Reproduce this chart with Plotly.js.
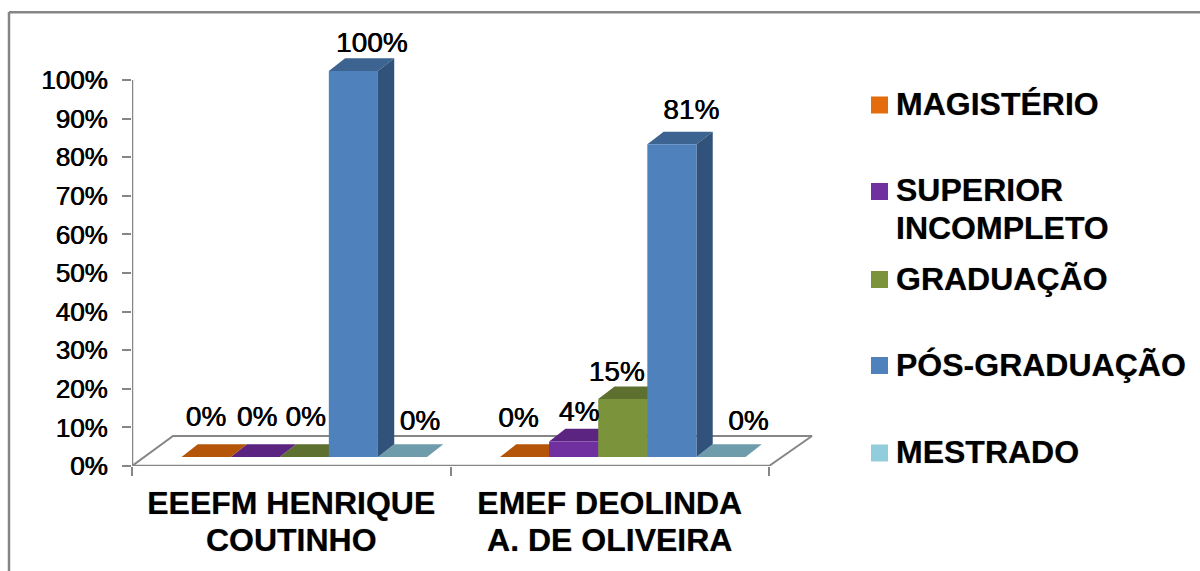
<!DOCTYPE html>
<html>
<head>
<meta charset="utf-8">
<script src="https://cdn.plot.ly/plotly-3.0.1.min.js"></script>
<style>html,body{margin:0;padding:0;background:#fff;overflow:hidden}</style>
</head>
<body>
<div id="chart" style="width:1200px;height:571px"></div>
<script>
// ---- data ----
const categoryLine1 = ["EEEFM HENRIQUE", "EMEF DEOLINDA"];
const categoryLine2 = ["COUTINHO", "A. DE OLIVEIRA"];
const seriesNames = ["MAGISTÉRIO", "SUPERIOR INCOMPLETO", "GRADUAÇÃO", "PÓS-GRADUAÇÃO", "MESTRADO"];
const magisterio = [0, 0];
const superiorIncompleto = [0, 4];
const graduacao = [0, 15];
const posGraduacao = [100, 81];
const mestrado = [0, 0];
const yTickValues = [0, 10, 20, 30, 40, 50, 60, 70, 80, 90, 100];

// ---- style ----
const frontColors = ["#E46C0A", "#7030A0", "#7B943B", "#4F81BD", "#92CDDC"];
const topColors   = ["#B45508", "#5B2480", "#5E7030", "#3D6490", "#6F9CAA"];
const sideColors  = ["#9A4907", "#4A1D69", "#4F5F28", "#31527B", "#5E8592"];
const GRAY = "#868686";
const FONT = "Liberation Sans, Arial, sans-serif";
const SHADOW = "0 0 1px rgba(0,0,0,0.45)";
const MEDIUM = "0.45px 0 0.4px rgba(0,0,0,0.85), -0.35px 0 0.4px rgba(0,0,0,0.7)";

// ---- geometry of the pseudo-3D frame, in pixels of the plot ----
const W = 1200, H = 571, L = 132, T = 20, B = 105, R = 360;
const pxPerUnit = 318.5, pxPerPct = 3.86;
const xMax = (W - L - R) / pxPerUnit, yMax = (H - T - B) / pxPerPct;
const ux = p => p / pxPerUnit, uy = p => p / pxPerPct;
const centers = [0.5, 1.5];
const floorLift = uy(9);
const barW = ux(49.1);
const firstOffset = -0.3445;
const depthX = ux(16.3), depthY = uy(12.7);

// label nudges in px from the centre of each bar's front-top edge
const labelDX = [[0, -6], [2, 5.5], [1.5, -6], [18.5, 19.5], [17.5, 27.5]];
const labelDY = [[38, 37], [38, 28], [38, 25], [26, 32], [34, 34]];

const allSeries = [magisterio, superiorIncompleto, graduacao, posGraduacao, mestrado];
const traces = [];

// floor outline and the axis lines
traces.push({
  type: "scatter", mode: "lines", cliponaxis: false, hoverinfo: "skip", showlegend: false,
  x: [0, ux(41), 2 + ux(43), 2], y: [0, uy(30), uy(30), 0],
  line: {color: GRAY, width: 2}
});
traces.push({
  type: "scatter", mode: "lines", cliponaxis: false, hoverinfo: "skip", showlegend: false,
  x: [0, 0, 2], y: [100, 0, 0],
  line: {color: GRAY, width: 2.5}
});

// top and side faces, painter order: right-most series first
for (let s = allSeries.length - 1; s >= 0; s--) {
  const tx = [], ty = [], sx = [], sy = [];
  allSeries[s].forEach((v, g) => {
    const x0 = centers[g] + firstOffset + s * barW, x1 = x0 + barW;
    const y1 = floorLift + v, y0 = floorLift;
    tx.push(x0, x1, x1 + depthX, x0 + depthX, x0, null);
    ty.push(y1, y1, y1 + depthY, y1 + depthY, y1, null);
    if (v > 0) {
      sx.push(x1, x1 + depthX, x1 + depthX, x1, x1, null);
      sy.push(y0, y0 + depthY, y1 + depthY, y1, y0, null);
    }
  });
  traces.push({type: "scatter", mode: "lines", fill: "toself", fillcolor: topColors[s],
    x: tx, y: ty, line: {width: 0, color: topColors[s]}, hoverinfo: "skip", showlegend: false});
  if (sx.length) traces.push({type: "scatter", mode: "lines", fill: "toself", fillcolor: sideColors[s],
    x: sx, y: sy, line: {width: 0, color: sideColors[s]}, hoverinfo: "skip", showlegend: false});
}

// front faces as real bars on an overlaid identical axis pair
allSeries.forEach((vals, s) => {
  traces.push({
    type: "bar", name: seriesNames[s], xaxis: "x2", yaxis: "y2",
    x: centers, y: vals, base: floorLift, width: barW, offset: firstOffset + s * barW,
    marker: {color: frontColors[s], line: {width: 0}}, showlegend: false
  });
});

// data labels
const lx = [], ly = [], lt = [];
allSeries.forEach((vals, s) => vals.forEach((v, g) => {
  lx.push(centers[g] + firstOffset + (s + 0.5) * barW + ux(labelDX[s][g]));
  ly.push(floorLift + v + uy(labelDY[s][g]));
  lt.push(v + "%");
}));
traces.push({
  type: "scatter", mode: "text", xaxis: "x2", yaxis: "y2", x: lx, y: ly, text: lt,
  textposition: "middle center", hoverinfo: "skip", showlegend: false,
  textfont: {family: FONT, size: 28, color: "#000", shadow: MEDIUM}
});

// legend drawn by hand because of its uneven spacing
const px = p => (p - L) / (W - L - R);
const py = p => (H - B - p) / (H - T - B);
const legendTextY = [[104], [190, 228], [279], [365], [452]];
const legendLines = [["MAGISTÉRIO"], ["SUPERIOR", "INCOMPLETO"], ["GRADUAÇÃO"], ["PÓS-GRADUAÇÃO"], ["MESTRADO"]];
const swatchY = [105, 191.5, 279.5, 365.5, 453];
const shapes = [
  {type: "line", xref: "paper", yref: "paper", x0: px(9), x1: px(9), y0: py(12), y1: py(571), line: {color: GRAY, width: 2.5}},
  {type: "line", xref: "paper", yref: "paper", x0: px(9), x1: px(1200), y0: py(12.3), y1: py(12.3), line: {color: GRAY, width: 2.5}}
];
const annotations = [];
legendLines.forEach((lines, s) => {
  shapes.push({type: "rect", xref: "paper", yref: "paper", x0: px(871), x1: px(888),
    y0: py(swatchY[s] - 8.5), y1: py(swatchY[s] + 8.5), fillcolor: frontColors[s], line: {width: 0}});
  lines.forEach((t, i) => annotations.push({
    xref: "paper", yref: "paper", x: px(893.5), y: py(legendTextY[s][i]), text: t,
    xanchor: "left", yanchor: "middle", showarrow: false,
    font: {family: FONT, size: 32, color: "#000", weight: 700, shadow: SHADOW}
  }));
});

const catFont = {family: FONT, size: 32, color: "#000", weight: 700, shadow: SHADOW};
const layout = {
  width: W, height: H, margin: {l: L, r: R, t: T, b: B, pad: 0, autoexpand: false},
  paper_bgcolor: "#fff", plot_bgcolor: "rgba(0,0,0,0)", showlegend: false, barmode: "overlay",
  xaxis: {range: [0, xMax], tickmode: "array", tickvals: centers, ticktext: categoryLine1, ticks: "",
    showgrid: false, zeroline: false, showline: false, tickfont: catFont, tickangle: 0,
    ticklabelstandoff: 15, fixedrange: true,
    minor: {tickmode: "array", tickvals: [0, 1, 2], ticks: "outside", ticklen: 9, tickwidth: 2, tickcolor: GRAY, showgrid: false}},
  xaxis2: {range: [0, xMax], overlaying: "x", side: "bottom", tickmode: "array", tickvals: centers, ticktext: categoryLine2, ticks: "",
    showgrid: false, zeroline: false, showline: false, tickfont: catFont, tickangle: 0, ticklabelstandoff: 52, fixedrange: true},
  yaxis: {range: [0, yMax], tickmode: "array", tickvals: yTickValues, ticktext: yTickValues.map(v => v + "%"),
    ticks: "outside", ticklen: 9, tickwidth: 2, tickcolor: GRAY, showgrid: false, zeroline: false,
    showline: false, tickfont: {family: FONT, size: 26, color: "#000", shadow: MEDIUM},
    ticklabelstandoff: 9, fixedrange: true},
  yaxis2: {range: [0, yMax], overlaying: "y", visible: false, fixedrange: true},
  shapes, annotations
};
Plotly.newPlot("chart", traces, layout, {displayModeBar: false, staticPlot: true});
</script>
</body>
</html>
